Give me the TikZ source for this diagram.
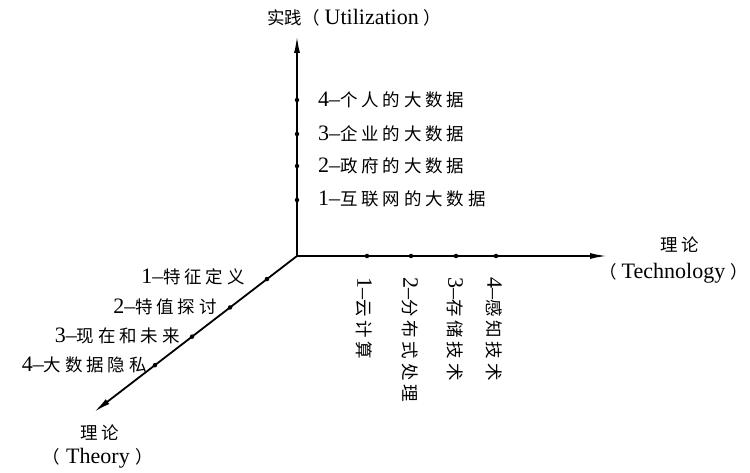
\documentclass[tikz,border=0pt]{standalone}
\usepackage{fontspec}
\setmainfont{Liberation Serif}
\newfontfamily\cjkf[Scale=0.795,LetterSpace=22]{Noto Sans CJK SC}
\newfontfamily\cjkn[Scale=0.795]{Noto Sans CJK SC}
\newcommand{\zh}[1]{{\cjkf #1}}
\newcommand{\zn}[1]{{\cjkn #1}}
\usetikzlibrary{arrows.meta,calc}
\begin{document}
\begin{tikzpicture}[x=1bp,y=-1bp,
  axis/.style={line width=1.8bp,-{Latex[length=17bp,width=6bp]}},
  dot/.style={circle,fill,inner sep=0pt,minimum size=4.5bp},
  lbl/.style={font=\fontsize{22bp}{25bp}\selectfont,inner sep=0pt},
  vlbl/.style={lbl,rotate=-90,anchor=west}]
\useasboundingbox (0,0) rectangle (750,473);
% axes
\coordinate (O) at (297,256);
\coordinate (U) at (297,36);
\coordinate (R) at (607,256);
\coordinate (D) at (94,412);
\draw[axis] (O) -- (U);
\draw[axis] (O) -- (R);
\draw[axis] (O) -- (D);
% dots on vertical axis
\node[dot] (u1) at (297,200) {};
\node[dot] (u2) at (297,166) {};
\node[dot] (u3) at (297,134) {};
\node[dot] (u4) at (297,100) {};
% dots on horizontal axis
\node[dot] (r1) at (367,256) {};
\node[dot] (r2) at (411,256) {};
\node[dot] (r3) at (456,256) {};
\node[dot] (r4) at (496,256) {};
% dots on diagonal axis
\node[dot] (d1) at ($(O)!0.148!(D)$) {};
\node[dot] (d2) at ($(O)!0.330!(D)$) {};
\node[dot] (d3) at ($(O)!0.517!(D)$) {};
\node[dot] (d4) at ($(O)!0.700!(D)$) {};
% axis titles
\node[lbl,anchor=west] (tu) at (267,18) {\zn{实践（}\hspace{5bp}Utilization\hspace{5bp}\zn{）}};
\node[lbl] (tr1) at (680,245) {\zh{理论}};
\node[lbl,anchor=west] (tr2) at (599,273) {\zn{（}\hspace{5bp}Technology\hspace{5bp}\zn{）}\hspace{-9bp}};
\node[lbl] (td1) at (100,433) {\zh{理论}};
\node[lbl] (td2) at (98,458) {\zn{（}\hspace{6bp}Theory\hspace{6bp}\zn{）}};
% vertical axis labels
\node[lbl,anchor=west] (lu4) at (318,100) {4–\zh{个人的大数据}};
\node[lbl,anchor=west] (lu3) at (318,134) {3–\zh{企业的大数据}};
\node[lbl,anchor=west] (lu2) at (318,166) {2–\zh{政府的大数据}};
\node[lbl,anchor=west] (lu1) at (318,199) {1–\zh{互联网的大数据}};
% horizontal axis labels (rotated)
\node[vlbl] (lr1) at (364,277) {1–\zh{云计算}};
\node[vlbl] (lr2) at (410,277) {2–\zh{分布式处理}};
\node[vlbl] (lr3) at (455,277) {3–\zh{存储技术}};
\node[vlbl] (lr4) at (494,277) {4–\zh{感知技术}};
% diagonal axis labels
\node[lbl,anchor=east] (ld1) at (245,277) {1–\zh{特征定义}};
\node[lbl,anchor=east] (ld2) at (217,307) {2–\zh{特值探讨}};
\node[lbl,anchor=east] (ld3) at (180,336) {3–\zh{现在和未来}};
\node[lbl,anchor=east] (ld4) at (147,365) {4–\zh{大数据隐私}};
\end{tikzpicture}
\end{document}
